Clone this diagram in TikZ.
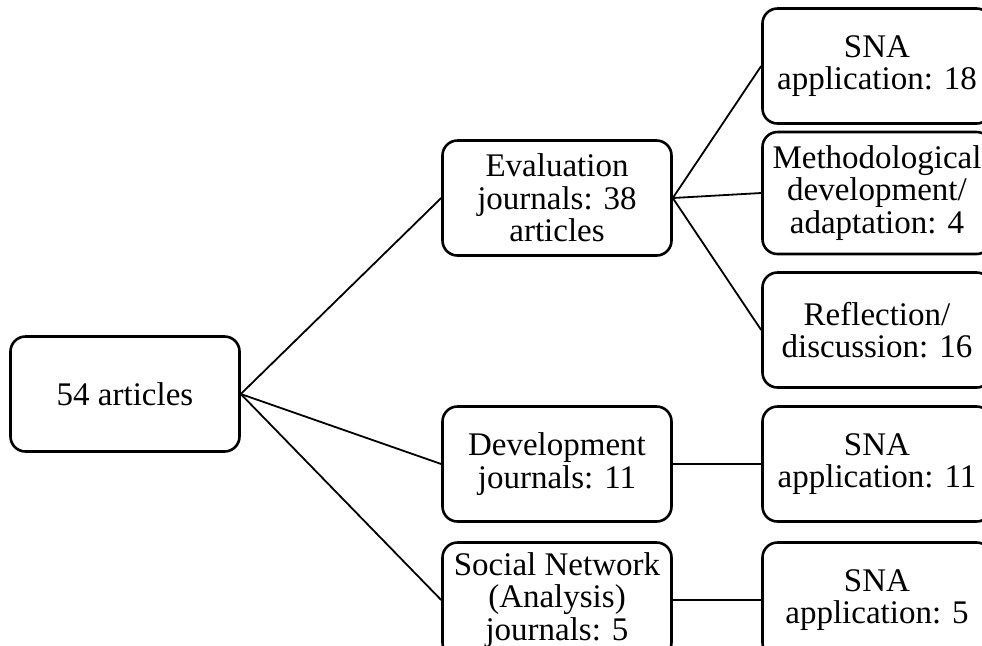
\documentclass[tikz,border=0pt]{standalone}
\usepackage{fontspec}
\setmainfont{Liberation Serif}
\usepackage{xcolor}

\begin{document}
\begin{tikzpicture}[x=0.5pt,y=-0.5pt,
    box/.style={draw,line width=1.3pt,rounded corners=7.5pt,fill=white,
        minimum width=114.5pt,minimum height=57.5pt,align=center,
        inner sep=1pt,font=\fontsize{16.5}{16.3}\selectfont},
    link/.style={line width=0.9pt}]
                \clip (0,0) rectangle (982,645);

                \node[box] (root) at (125,394) {54 articles};

                \node[box] (eval) at (557,198) {Evaluation\\journals: 38\\articles};
                \node[box] (dev)  at (557,464) {Development\\journals: 11};
                \node[box] (soc)  at (557,600) {Social Network\\(Analysis)\\journals: 5};

                \node[box] (snaA) at (877,66)  {SNA\\application: 18};
                \node[box,minimum height=61pt] (meth) at (877,193) {Methodological\\development/\\adaptation: 4};
                \node[box] (refl) at (877,330) {Reflection/\\discussion: 16};
                \node[box] (snaB) at (877,464) {SNA\\application: 11};
                \node[box] (snaC) at (877,600) {SNA\\application: 5};

                \draw[link] (root.east) -- (eval.west);
                \draw[link] (root.east) -- (dev.west);
                \draw[link] (root.east) -- (soc.west);

                \draw[link] (eval.east) -- (snaA.west);
                \draw[link] (eval.east) -- (meth.west);
                \draw[link] (eval.east) -- (refl.west);

                \draw[link] (dev.east) -- (snaB.west);
                \draw[link] (soc.east) -- (snaC.west);
            \end{tikzpicture}
\end{document}
